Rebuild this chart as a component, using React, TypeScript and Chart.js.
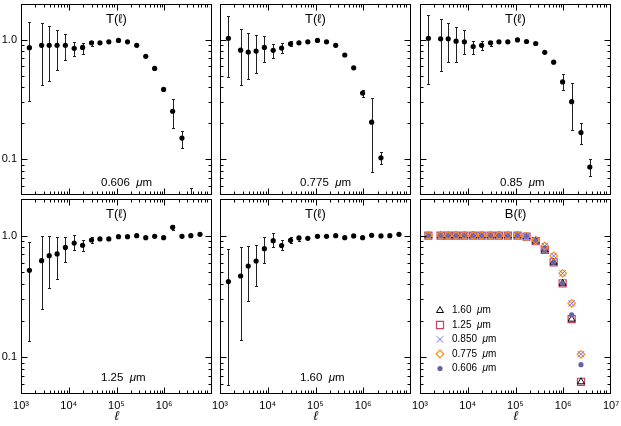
import React, { useEffect, useRef } from 'react';
import { Chart, registerables } from 'chart.js';
import { drawPoint } from 'chart.js/helpers';

Chart.register(...registerables);

const FONT = '"Liberation Sans", Arial, Helvetica, sans-serif';

// multipole bins
const ELL = [1500, 2700, 3900, 5700, 8500, 13000, 19500, 30000, 45000, 69000, 110000, 170000, 265000, 410000, 630000, 970000, 1500000, 2350000, 3600000, 5600000];

// T(l) 0.606 um
const T_0606 = [0.86, 0.90, 0.90, 0.90, 0.90, 0.85, 0.865, 0.945, 0.945, 0.963, 0.99, 0.963, 0.90, 0.728, 0.576, 0.384, 0.252, 0.150, 0.035];
const LO_0606 = [0.307, 0.417, 0.453, 0.555, 0.68, 0.738, 0.757, 0.881, null, null, null, null, null, null, null, null, 0.183, 0.124, 0.02];
const HI_0606 = [1.41, 1.39, 1.32, 1.21, 1.11, 0.963, 0.95, 0.987, null, null, null, null, null, null, null, null, 0.321, 0.173, 0.0569];

// T(l) 0.775 um
const T_0775 = [1.03, 0.82, 0.79, 0.806, 0.864, 0.817, 0.853, 0.927, 0.945, 0.963, 0.99, 0.963, 0.90, 0.747, 0.583, 0.358, 0.204, 0.1025];
const LO_0775 = [0.485, 0.417, 0.467, 0.527, 0.658, 0.70, 0.776, 0.881, null, null, null, null, null, null, null, 0.33, 0.078, 0.091];
const HI_0775 = [1.6, 1.225, 1.135, 1.1, 1.07, 0.927, 0.94, 0.975, null, null, null, null, null, null, null, 0.381, 0.328, 0.114];

// T(l) 0.85 um
const T_085 = [1.03, 1.02, 1.02, 0.975, 0.963, 0.88, 0.90, 0.945, 0.963, 0.963, 1.0, 0.969, 0.933, 0.786, 0.65, 0.444, 0.303, 0.167, 0.0859];
const LO_085 = [0.428, 0.551, 0.658, 0.65, 0.761, 0.76, 0.82, 0.892, null, null, null, null, null, null, null, 0.379, 0.177, 0.133, 0.072];
const HI_085 = [1.63, 1.5, 1.39, 1.28, 1.21, 0.98, 0.987, 0.987, null, null, null, null, null, null, null, 0.514, 0.436, 0.2, 0.1];

// T(l) 1.25 um
const T_125 = [0.519, 0.623, 0.685, 0.707, 0.80, 0.87, 0.833, 0.921, 0.939, 0.939, 0.981, 0.981, 1.0, 0.963, 0.987, 0.963, 1.17, 0.987, 1.0, 1.025];
const LO_125 = [0.137, 0.25, 0.371, 0.438, 0.604, 0.763, 0.748, 0.876, null, null, null, null, null, null, null, null, 1.11, null, null, null];
const HI_125 = [0.893, 1.0, 1.0, 0.98, 0.98, 1.006, 0.916, 0.98, null, null, null, null, null, null, null, null, 1.23, null, null, null];

// T(l) 1.60 um
const T_160 = [0.419, 0.466, 0.563, 0.619, 0.782, 0.91, 0.828, 0.915, 0.957, 0.95, 0.987, 0.987, 1.0, 0.963, 0.994, 0.963, 1.006, 0.994, 1.0, 1.025];
const LO_160 = [0.0596, 0.139, 0.292, 0.383, 0.592, 0.802, 0.763, 0.865, 0.898, null, null, null, null, null, null, null, null, null, null, null];
const HI_160 = [0.772, 0.802, 0.828, 0.843, 0.981, 1.045, 0.921, 0.981, 0.981, null, null, null, null, null, null, null, null, null, null, null];

// B(l) beams
const B_160 = [1, 1, 1, 1, 1, 1, 1, 1, 1, 1, 1, 0.98, 0.90, 0.763, 0.604, 0.406, 0.206, 0.063];
const B_125 = [1, 1, 1, 1, 1, 1, 1, 1, 1, 1, 1, 0.98, 0.90, 0.763, 0.604, 0.406, 0.206, 0.063];
const B_0850 = [1, 1, 1, 1, 1, 1, 1, 1, 1, 1, 1, 0.985, 0.92, 0.822, 0.681, 0.49, 0.278, 0.106];
const B_0775 = [1, 1, 1, 1, 1, 1, 1, 1, 1, 1, 1, 0.985, 0.92, 0.822, 0.681, 0.49, 0.278, 0.106];
const B_0606 = [1, 1, 1, 1, 1, 1, 1, 1, 1, 1, 1, 0.98, 0.90, 0.763, 0.604, 0.406, 0.224, 0.087];

const X_TICK_VALUES = [1e3, 1e4, 1e5, 1e6, 1e7];
const X_TICK_LABELS = ['10³', '10⁴', '10⁵', '10⁶', '10⁷'];
const Y_TICK_VALUES = [0.1, 1];
const Y_TICK_LABELS = ['0.1', '1.0'];
const LEGEND_LABELS = ['1.60', '1.25', '0.850', '0.775', '0.606'];

const COL_L = [21, 220, 420];
const COL_R = [212, 411, 611];
const ROW_T = [1, 199];
const ROW_B = [195, 394];
const Y_AXIS_W = 21;
const X_AXIS_H = 32;

const close = (a: number, b: number) => Math.abs(a - b) < 1e-9 * Math.max(1, Math.abs(b));

function drawLabel(ctx: CanvasRenderingContext2D, x: number, y: number, num: string, size: number) {
  ctx.textAlign = 'left';
  ctx.textBaseline = 'middle';
  ctx.font = `${size}px ${FONT}`;
  const t1 = num + '  ';
  ctx.fillText(t1, x, y);
  let w = ctx.measureText(t1).width;
  ctx.font = `italic ${size}px ${FONT}`;
  ctx.fillText('μ', x + w, y);
  w += ctx.measureText('μ').width;
  ctx.font = `${size}px ${FONT}`;
  ctx.fillText('m', x + w, y);
}

const errorBarPlugin = {
  id: 'errbars',
  beforeDatasetsDraw(chart: any) {
    const { ctx, chartArea: a, scales } = chart;
    const x = scales.x, y = scales.y;
    ctx.save();
    ctx.beginPath();
    ctx.rect(a.left, a.top, a.right - a.left, a.bottom - a.top);
    ctx.clip();
    ctx.strokeStyle = '#222';
    ctx.lineWidth = 1;
    chart.data.datasets.forEach((ds: any) => {
      if (!ds.errLo) return;
      ds.data.forEach((p: any, i: number) => {
        const lo = ds.errLo[i], hi = ds.errHi[i];
        if (lo == null || hi == null) return;
        const px = Math.round(x.getPixelForValue(p.x)) + 0.5;
        const y1 = Math.round(y.getPixelForValue(lo)) + 0.5;
        const y2 = Math.round(y.getPixelForValue(hi)) + 0.5;
        ctx.beginPath();
        ctx.moveTo(px, y1); ctx.lineTo(px, y2);
        ctx.moveTo(px - 1.5, y1); ctx.lineTo(px + 1.5, y1);
        ctx.moveTo(px - 1.5, y2); ctx.lineTo(px + 1.5, y2);
        ctx.stroke();
      });
    });
    ctx.restore();
  },
};

const framePlugin = {
  id: 'frame',
  afterDraw(chart: any) {
    const { ctx, chartArea: a, scales } = chart;
    const x = scales.x, y = scales.y;
    const panel = chart.options.plugins.frame;
    ctx.save();
    ctx.strokeStyle = '#000';
    ctx.lineWidth = 1;
    const L = Math.round(a.left) + 0.5, R = Math.round(a.right) - 0.5;
    const T = Math.round(a.top) + 0.5, B = Math.round(a.bottom) - 0.5;
    ctx.strokeRect(L, T, R - L, B - T);
    ctx.beginPath();
    for (let e = 3; e <= 6; e++) {
      for (let k = 1; k <= 9; k++) {
        const v = k * Math.pow(10, e);
        const px = Math.round(x.getPixelForValue(v)) + 0.5;
        if (px <= L + 1 || px >= R - 1) continue;
        const len = k === 1 ? 6 : 3;
        ctx.moveTo(px, B); ctx.lineTo(px, B - len);
        ctx.moveTo(px, T); ctx.lineTo(px, T + len);
      }
    }
    for (let e = -2; e <= 0; e++) {
      for (let k = 1; k <= 9; k++) {
        const v = k * Math.pow(10, e);
        if (v < 0.05 - 1e-9 || v > 2 + 1e-9) continue;
        const py = Math.round(y.getPixelForValue(v)) + 0.5;
        if (py <= T + 1 || py >= B - 1) continue;
        const len = k === 1 ? 6 : 3;
        ctx.moveTo(L, py); ctx.lineTo(L + len, py);
        ctx.moveTo(R, py); ctx.lineTo(R - len, py);
      }
    }
    ctx.stroke();

    ctx.fillStyle = '#000';
    const cx = (a.left + a.right) / 2;
    // panel title
    ctx.textAlign = 'center';
    ctx.textBaseline = 'middle';
    ctx.font = `13px ${FONT}`;
    ctx.fillText(panel.title + '(ℓ)', cx, a.top + 15.5);
    if (panel.label) {
      drawLabel(ctx, a.left + 80, a.top + 178.5, panel.label, 11.5);
    }
    if (panel.legend) {
      chart.data.datasets.forEach((ds: any, i: number) => {
        const lx = a.left + 20, ly = a.top + 111.5 + i * 14.5;
        ctx.save();
        ctx.fillStyle = ds.pointBackgroundColor;
        ctx.strokeStyle = ds.pointBorderColor;
        ctx.lineWidth = ds.pointBorderWidth;
        drawPoint(ctx, { pointStyle: ds.pointStyle, radius: ds.pointRadius, borderWidth: ds.pointBorderWidth, rotation: 0 }, lx, ly);
        ctx.restore();
        ctx.fillStyle = '#000';
        drawLabel(ctx, a.left + 32, ly, ds.label, 10);
      });
    }
    ctx.restore();
  },
};

function tDataset(vals: number[], lo: (number | null)[], hi: (number | null)[]) {
  return {
    label: 'T',
    data: vals.map((v, i) => ({ x: ELL[i], y: v })),
    errLo: lo,
    errHi: hi,
    pointRadius: 2.6,
    pointBackgroundColor: '#000',
    pointBorderColor: '#000',
    pointBorderWidth: 0,
    clip: 0,
  };
}

function bDataset(label: string, vals: number[], style: string, radius: number, bg: string, border: string, bw: number, order: number) {
  return {
    label,
    data: vals.map((v, i) => ({ x: ELL[i], y: v })),
    pointStyle: style,
    pointRadius: radius,
    pointBackgroundColor: bg,
    pointBorderColor: border,
    pointBorderWidth: bw,
    order,
    clip: 0,
  };
}

const PANELS = [
  { row: 0, col: 0, title: 'T', label: '0.606', datasets: [tDataset(T_0606, LO_0606, HI_0606)] },
  { row: 0, col: 1, title: 'T', label: '0.775', datasets: [tDataset(T_0775, LO_0775, HI_0775)] },
  { row: 0, col: 2, title: 'T', label: '0.85', datasets: [tDataset(T_085, LO_085, HI_085)] },
  { row: 1, col: 0, title: 'T', label: '1.25', datasets: [tDataset(T_125, LO_125, HI_125)] },
  { row: 1, col: 1, title: 'T', label: '1.60', datasets: [tDataset(T_160, LO_160, HI_160)] },
  {
    row: 1, col: 2, title: 'B', label: null, legend: true,
    datasets: [
      bDataset(LEGEND_LABELS[0], B_160, 'triangle', 4, 'rgba(0,0,0,0)', '#000', 1, 3),
      bDataset(LEGEND_LABELS[1], B_125, 'rect', 5, 'rgba(0,0,0,0)', 'rgb(190,70,100)', 1.2, 4),
      bDataset(LEGEND_LABELS[2], B_0850, 'crossRot', 4.5, 'rgba(0,0,0,0)', 'rgb(110,110,235)', 1, 0),
      bDataset(LEGEND_LABELS[3], B_0775, 'rectRot', 3.8, 'rgba(0,0,0,0)', 'rgb(255,140,20)', 1.2, 1),
      bDataset(LEGEND_LABELS[4], B_0606, 'circle', 2.6, 'rgb(100,100,165)', 'rgb(100,100,165)', 0, 2),
    ],
  },
];

function buildConfig(p: any): any {
  const showX = p.row === 1;
  const showY = p.col === 0;
  const showTop = p.col === 2;
  return {
    type: 'scatter',
    data: { datasets: p.datasets },
    options: {
      responsive: false,
      animation: false,
      devicePixelRatio: 1,
      events: [],
      layout: {
        padding: {
          left: showY ? COL_L[p.col] - Y_AXIS_W : COL_L[p.col],
          right: 621 - COL_R[p.col],
          top: ROW_T[p.row],
          bottom: showX ? 426 - ROW_B[p.row] - X_AXIS_H : 426 - ROW_B[p.row],
        },
      },
      plugins: {
        legend: { display: false },
        tooltip: { enabled: false },
        frame: { title: p.title, label: p.label, legend: !!p.legend },
      },
      scales: {
        x: {
          type: 'logarithmic',
          position: 'bottom',
          min: 1e3,
          max: 1e7,
          display: showX,
          grid: { display: false, drawTicks: false },
          border: { display: false },
          ticks: {
            autoSkip: false,
            maxRotation: 0,
            minRotation: 0,
            padding: 5,
            color: '#000',
            font: { family: FONT, size: 11 },
            callback: (v: number) => {
              const idx = X_TICK_VALUES.findIndex((t) => close(v, t));
              if (idx < 0) return '';
              if (idx === X_TICK_VALUES.length - 1 && !showTop) return '';
              return X_TICK_LABELS[idx];
            },
          },
          title: {
            display: true,
            text: 'ℓ',
            color: '#000',
            font: { family: FONT, size: 13, style: 'italic' },
            padding: { top: 0, bottom: 2 },
          },
          afterFit: (s: any) => {
            if (!showX) return;
            s.height = X_AXIS_H;
            s.paddingLeft = 0;
            s.paddingRight = 0;
          },
        },
        y: {
          type: 'logarithmic',
          position: 'left',
          min: 0.05,
          max: 2,
          display: showY,
          grid: { display: false, drawTicks: false },
          border: { display: false },
          ticks: {
            autoSkip: false,
            padding: 4,
            color: '#000',
            font: { family: FONT, size: 11 },
            callback: (v: number) => {
              const idx = Y_TICK_VALUES.findIndex((t) => close(v, t));
              return idx < 0 ? '' : Y_TICK_LABELS[idx];
            },
          },
          afterFit: (s: any) => {
            if (!showY) return;
            s.width = Y_AXIS_W;
            s.paddingTop = 0;
            s.paddingBottom = 0;
          },
        },
      },
    },
    plugins: [errorBarPlugin, framePlugin],
  };
}

function Panel({ cfg }: { cfg: any }) {
  const ref = useRef<HTMLCanvasElement>(null);
  useEffect(() => {
    const chart = new Chart(ref.current as HTMLCanvasElement, buildConfig(cfg));
    return () => chart.destroy();
  }, [cfg]);
  return (
    <canvas
      ref={ref}
      width={621}
      height={426}
      style={{ position: 'absolute', left: 0, top: 0, width: 621, height: 426 }}
    />
  );
}

export default function App() {
  return (
    <div style={{ position: 'fixed', left: 0, top: 0, width: 621, height: 426, background: '#fff', overflow: 'hidden' }}>
      {PANELS.map((p, i) => (
        <Panel key={i} cfg={p} />
      ))}
    </div>
  );
}
